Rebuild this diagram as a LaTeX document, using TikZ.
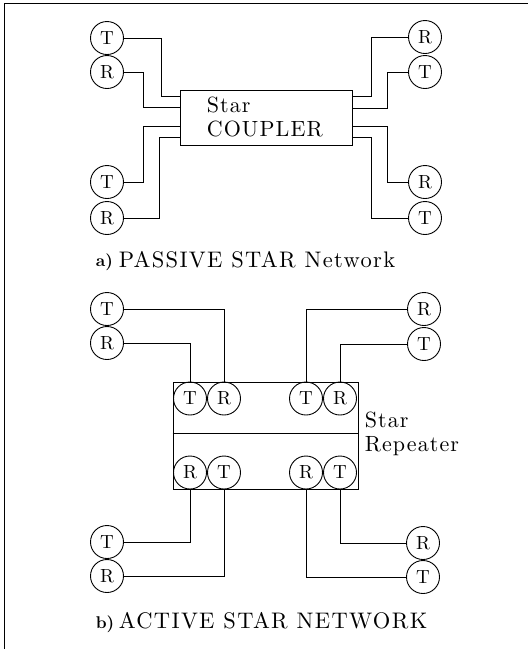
\documentclass[tikz,border=0pt]{standalone}
\usepackage{fontspec}
\setmainfont{lmroman10-regular.otf}[BoldFont=lmroman10-bold.otf]
\usetikzlibrary{positioning, calc}

\begin{document}
\begin{tikzpicture}[
    x=1pt, y=-1pt,
    line width=0.9pt,
    stn/.style={draw, circle, minimum size=33pt, inner sep=0pt,
                font=\fontsize{19}{19}\selectfont},
    lbl/.style={align=left,
                font=\fontsize{22}{24}\selectfont\addfontfeature{LetterSpace=5}},
    captxt/.style={font=\fontsize{22.5}{23}\selectfont\addfontfeature{LetterSpace=6}},
    tag/.style={font=\fontsize{17}{17}\selectfont\bfseries}
  ]
  \useasboundingbox (0,0) rectangle (528,649);
  \draw (528,3) -- (4,3) -- (4,649);

  % Passive star
  \node[draw, minimum width=172pt, minimum height=55pt] (cpl) at (266,117.5) {};
  \node[lbl, anchor=west] (cpltxt) at (203,117) {Star\\COUPLER};

  \foreach \t/\y/\bx/\by [count=\i] in {T/38/161/96, R/72/143/107,
                                       T/182/143/126, R/218/159/137} {
    \node[stn] (pl\i) at (107,\y) {\t};
    \coordinate (cl\i) at (cpl.west |- 0,\by);
    \draw (pl\i) -| (\bx,\by) -- (cl\i);
  }
  \foreach \t/\y/\bx/\by [count=\i] in {R/37/371/96, T/72/387/108,
                                       R/182/387/126, T/218/371/137} {
    \node[stn] (pr\i) at (425,\y) {\t};
    \coordinate (cr\i) at (cpl.east |- 0,\by);
    \draw (pr\i) -| (\bx,\by) -- (cr\i);
  }

  \node[tag, anchor=base west] (taga) at (92,266) {a)};
  \node[captxt, anchor=base west] (capa) at (115,267) {PASSIVE STAR Network};

  % Active star
  \node[draw, minimum width=185pt, minimum height=107pt] (rep) at (265.5,435.5) {};
  \draw (rep.west |- 0,433) -- (rep.east |- 0,433);
  \node[lbl, anchor=west] (reptxt) at (361,434) {Star\\Repeater};

  \foreach \t/\x [count=\i] in {T/190, R/224, T/306, R/340}
    \node[stn] (ti\i) at (\x,398.5) {\t};
  \foreach \t/\x [count=\i] in {R/190, T/224, R/306, T/340}
    \node[stn] (bi\i) at (\x,472.5) {\t};

  \node[stn] (lo1) at (107,309) {T};
  \node[stn] (lo2) at (107,343) {R};
  \node[stn] (lo3) at (107,542) {T};
  \node[stn] (lo4) at (107,576) {R};
  \node[stn] (ro1) at (424,309) {R};
  \node[stn] (ro2) at (424,344) {T};
  \node[stn] (ro3) at (423,543) {R};
  \node[stn] (ro4) at (423,577) {T};

  \draw (lo1) -| (ti2);
  \draw (lo2) -| (ti1);
  \draw (ro1) -| (ti3);
  \draw (ro2) -| (ti4);
  \draw (lo3) -| (bi1);
  \draw (lo4) -| (bi2);
  \draw (ro4) -| (bi3);
  \draw (ro3) -| (bi4);

  \node[tag, anchor=base west] (tagb) at (92,628) {b)};
  \node[captxt, anchor=base west] (capb) at (115,628) {ACTIVE STAR NETWORK};
\end{tikzpicture}
\end{document}
